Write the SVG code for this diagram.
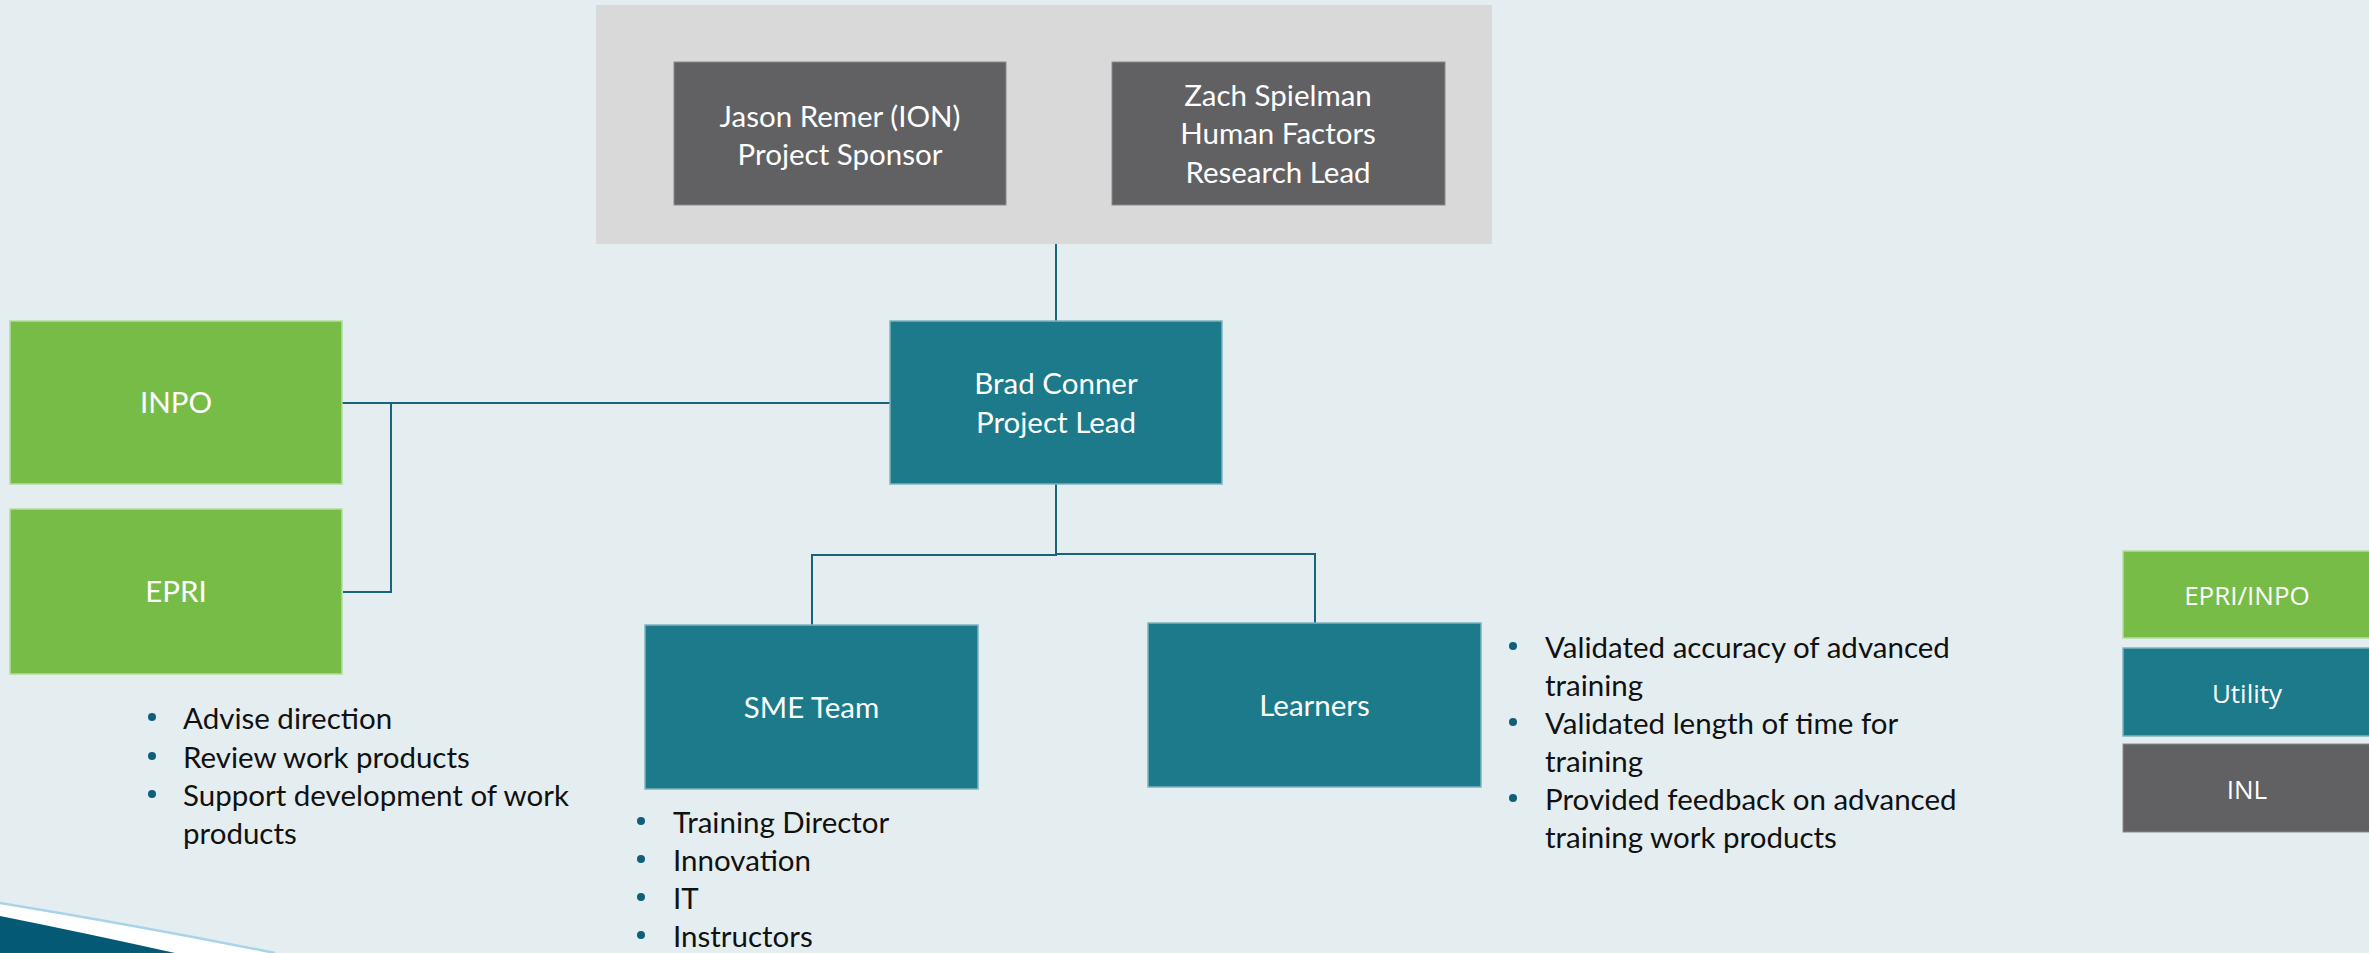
<svg xmlns="http://www.w3.org/2000/svg" width="2369" height="953" viewBox="0 0 2369 953">
  <style>
    .bg { fill: #e4edf0; }
    .panel { fill: #d9d9d9; }
    .inl { fill: #616163; stroke: #8a8a8c; stroke-width: 1; }
    .util { fill: #1c7a8b; stroke: #7fb3c0; stroke-width: 1.5; }
    .org { fill: #78bc48; stroke: #b5dba0; stroke-width: 1.5; }
    .lbl { font-family: Lato, "Open Sans", sans-serif; font-size: 29.5px; fill: #ffffff; text-anchor: middle; }
    .leg { font-family: "Open Sans", "Noto Sans", sans-serif; font-size: 26px; fill: #ffffff; text-anchor: middle; }
    .bul { font-family: Lato, "Open Sans", sans-serif; font-size: 29.5px; fill: #111111; }
    .dot { fill: #0f5f78; }
    .conn { fill: none; stroke: #17647c; stroke-width: 2; }
  </style>

  <rect class="bg" x="0" y="0" width="2369" height="953"/>

  <!-- corner swoosh -->
  <g id="swoosh">
    <path d="M0,903 Q140,926 275,953 L0,953 Z" fill="#ffffff"/>
    <path d="M0,903 Q140,926 275,953" fill="none" stroke="#a9d3ea" stroke-width="2.5"/>
    <path d="M0,916 Q85,933 175,953 L0,953 Z" fill="#045a74"/>
  </g>

  <!-- connectors -->
  <g id="connectors">
    <path class="conn" d="M1056,244 V321"/>
    <path class="conn" d="M342,403 H890"/>
    <path class="conn" d="M391,403 V592 H343"/>
    <path class="conn" d="M1056,484 V555 H812 V625"/>
    <path class="conn" d="M1056,554 H1315 V623"/>
  </g>

  <g id="sponsors">
    <rect class="panel" x="596" y="5" width="896" height="239"/>
  </g>

  <g id="jason">
    <rect class="inl" x="674" y="62" width="332" height="143"/>
    <text class="lbl" x="840" y="127">Jason Remer (ION)</text>
    <text class="lbl" x="840" y="165">Project Sponsor</text>
  </g>

  <g id="zach">
    <rect class="inl" x="1112" y="62" width="333" height="143"/>
    <text class="lbl" x="1278" y="106">Zach Spielman</text>
    <text class="lbl" x="1278" y="144">Human Factors</text>
    <text class="lbl" x="1278" y="183">Research Lead</text>
  </g>

  <g id="brad">
    <rect class="util" x="890" y="321" width="332" height="163"/>
    <text class="lbl" x="1056" y="394">Brad Conner</text>
    <text class="lbl" x="1056" y="433">Project Lead</text>
  </g>

  <g id="inpo">
    <rect class="org" x="10" y="321" width="332" height="163"/>
    <text class="lbl" x="176" y="413">INPO</text>
  </g>

  <g id="epri">
    <rect class="org" x="10" y="509" width="332" height="165"/>
    <text class="lbl" x="176" y="602">EPRI</text>
  </g>

  <g id="sme">
    <rect class="util" x="645" y="625" width="333" height="164"/>
    <text class="lbl" x="811.5" y="718">SME Team</text>
  </g>

  <g id="learners">
    <rect class="util" x="1148" y="623" width="333" height="164"/>
    <text class="lbl" x="1314.5" y="716">Learners</text>
  </g>

  <!-- bullet notes -->
  <g id="epri-notes">
    <circle class="dot" cx="152" cy="717" r="4"/>
    <text class="bul" x="183" y="729">Advise direction</text>
    <circle class="dot" cx="152" cy="756" r="4"/>
    <text class="bul" x="183" y="768">Review work products</text>
    <circle class="dot" cx="152" cy="794" r="4"/>
    <text class="bul" x="183" y="806">Support development of work</text>
    <text class="bul" x="183" y="844">products</text>
  </g>

  <g id="sme-notes">
    <circle class="dot" cx="641" cy="821" r="4"/>
    <text class="bul" x="673" y="833">Training Director</text>
    <circle class="dot" cx="641" cy="859" r="4"/>
    <text class="bul" x="673" y="871">Innovation</text>
    <circle class="dot" cx="641" cy="897" r="4"/>
    <text class="bul" x="673" y="909">IT</text>
    <circle class="dot" cx="641" cy="935" r="4"/>
    <text class="bul" x="673" y="947">Instructors</text>
  </g>

  <g id="learner-notes">
    <circle class="dot" cx="1513" cy="646" r="4"/>
    <text class="bul" x="1545" y="658">Validated accuracy of advanced</text>
    <text class="bul" x="1545" y="696">training</text>
    <circle class="dot" cx="1513" cy="722" r="4"/>
    <text class="bul" x="1545" y="734">Validated length of time for</text>
    <text class="bul" x="1545" y="772">training</text>
    <circle class="dot" cx="1513" cy="798" r="4"/>
    <text class="bul" x="1545" y="810">Provided feedback on advanced</text>
    <text class="bul" x="1545" y="848">training work products</text>
  </g>

  <!-- legend -->
  <g id="legend-epri-inpo">
    <rect class="org" x="2123" y="551" width="250" height="87"/>
    <text class="leg" x="2247" y="605">EPRI/INPO</text>
  </g>
  <g id="legend-utility">
    <rect class="util" x="2123" y="648" width="250" height="88"/>
    <text class="leg" x="2247" y="703">Utility</text>
  </g>
  <g id="legend-inl">
    <rect class="inl" x="2123" y="744" width="250" height="88"/>
    <text class="leg" x="2247" y="799">INL</text>
  </g>
</svg>
